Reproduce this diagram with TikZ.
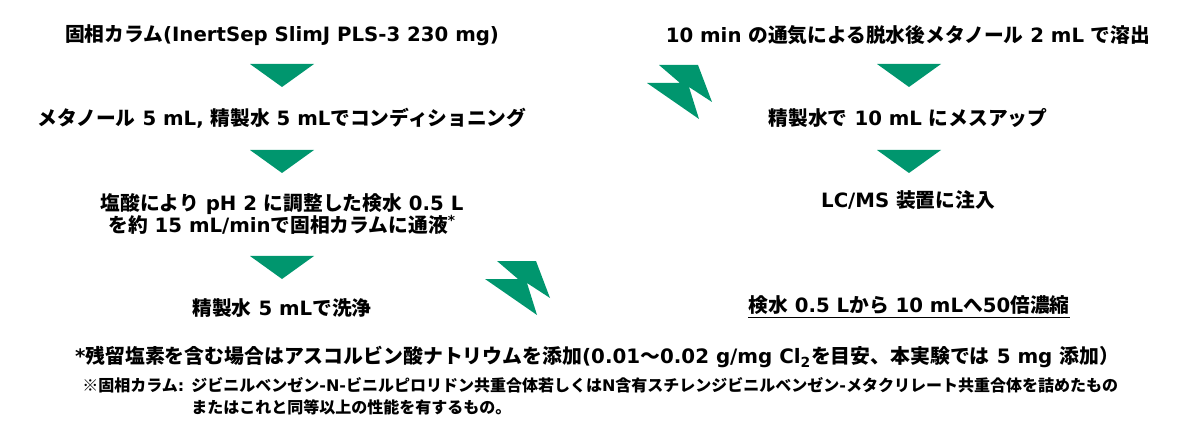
\documentclass[tikz,border=0pt]{standalone}
\usepackage{fontspec}
\setmainfont{DejaVu Sans}
\newfontfamily\jpfont{Noto Sans CJK JP}
\newcommand\jp[1]{{\jpfont #1}}
\usetikzlibrary{calc,positioning}
\definecolor{flowgreen}{RGB}{0,150,110}
\def\downtri(#1,#2){\fill[flowgreen] (#1-32,#2-11.5) -- (#1+32,#2-11.5) -- (#1,#2+11.5) -- cycle;}
\def\zigzag(#1,#2){\fill[flowgreen] (#1,#2) -- ++(39,0) -- ++(14,37) -- ++(-23,-15) -- ++(10,32) -- ++(-52,-36) -- ++(33,0) -- cycle;}
\tikzset{
  steptext/.style={font=\bfseries\fontsize{14.8}{16.5}\selectfont, align=center, inner sep=0pt},
  foottext/.style={font=\bfseries\fontsize{14.9}{16.5}\selectfont, inner sep=0pt},
  smalltext/.style={font=\bfseries\fontsize{12}{16.5}\selectfont, inner sep=0pt}
}

\begin{document}
\begin{tikzpicture}[x=0.75pt,y=-0.75pt]
			%%%%% START %%%%%
			\useasboundingbox (0,0) rectangle (1200,431);
			
			% left column
			\node[steptext] (s1) at (282,35) {\jp{固相カラム}(InertSep SlimJ PLS-3 230 mg)};
			\downtri(282,75.5);
			\node[steptext] (s2) at (282,118) {\jp{メタノール} 5 mL, \jp{精製水} 5 mL\jp{でコンディショニング}};
			\downtri(282,161.5);
			\node[steptext] (s3) at (282,214) {\jp{塩酸により} pH 2 \jp{に調整した検水} 0.5 L\\\jp{を約} 15 mL/min\jp{で固相カラムに通液}\textsuperscript{*}};
			\downtri(282,267.5);
			\node[steptext] (s4) at (282,308) {\jp{精製水} 5 mL\jp{で洗浄}};
			
			% right column
			\zigzag(659,65);
			\node[steptext] (r1) at (908,35) {10 min \jp{の通気による脱水後メタノール} 2 mL \jp{で溶出}};
			\downtri(909,75.5);
			\node[steptext] (r2) at (908,118) {\jp{精製水で} 10 mL \jp{にメスアップ}};
			\downtri(909,161.5);
			\node[steptext] (r3) at (908,200) {LC/MS \jp{装置に注入}};
			
			\zigzag(497,261);
			\node[steptext] (ratio) at (909,305) {\jp{検水} 0.5 L\jp{から} 10 mL\jp{へ}50\jp{倍濃縮}};
			\draw[line width=1pt] ([yshift=-4pt]ratio.base west) -- ([yshift=-4pt]ratio.base east);
			
			% footnotes
			\node[foottext] (foot) at (597,357) {*\jp{残留塩素を含む場合はアスコルビン酸ナトリウムを添加}(0.01\jp{～}0.02 g/mg Cl\textsubscript{2}\jp{を目安、本実験では} 5 mg \jp{添加）}};
			\node[smalltext, anchor=west] (spe) at (82,385) {\jp{※固相カラム}:};
			\node[smalltext, anchor=north west, align=left] (spedef) at ([xshift=5pt]spe.north east) {\jp{ジビニルベンゼン}-N-\jp{ビニルピロリドン共重合体若しくは}N\jp{含有スチレンジビニルベンゼン}-\jp{メタクリレート共重合体を詰めたもの}\\\jp{またはこれと同等以上の性能を有するもの。}};
			
			%%%%% END %%%%%
\end{tikzpicture}
\end{document}
